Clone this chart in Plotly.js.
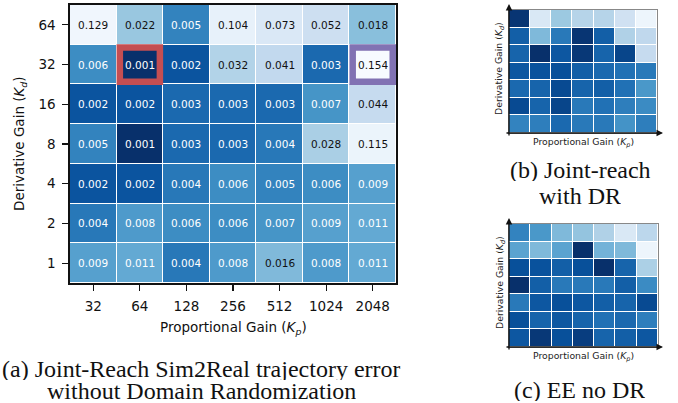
<!DOCTYPE html>
<html><head><meta charset="utf-8">
<script src="https://cdn.plot.ly/plotly-3.0.1.min.js"></script>
<style>html,body{margin:0;padding:0;background:#fff}#chart{width:678px;height:403px}</style>
</head><body><div id="chart"></div>
<script>
// ---- data ----
const kpLabels = ['32','64','128','256','512','1024','2048'];
const kdLabels = ['64','32','16','8','4','2','1']; // top to bottom
// (a) trajectory error, rows top (Kd=64) to bottom (Kd=1)
const errRow64 = [0.129, 0.022, 0.005, 0.104, 0.073, 0.052, 0.018];
const errRow32 = [0.006, 0.001, 0.002, 0.032, 0.041, 0.003, 0.154];
const errRow16 = [0.002, 0.002, 0.003, 0.003, 0.003, 0.007, 0.044];
const errRow8  = [0.005, 0.001, 0.003, 0.003, 0.004, 0.028, 0.115];
const errRow4  = [0.002, 0.002, 0.004, 0.006, 0.005, 0.006, 0.009];
const errRow2  = [0.004, 0.008, 0.006, 0.006, 0.007, 0.009, 0.011];
const errRow1  = [0.009, 0.011, 0.004, 0.008, 0.016, 0.008, 0.011];
const errA = [errRow64, errRow32, errRow16, errRow8, errRow4, errRow2, errRow1];
// highlighted cells
const highlightKp = ['64', '2048'];
const highlightKd = ['32', '32'];
// (b) Joint-reach with DR: colour level (0 light .. 1 dark), estimated
const levelB = [
  [0.98, 0.15, 0.38, 0.30, 0.30, 0.20, 0.05],
  [0.82, 0.45, 0.72, 0.98, 0.82, 0.32, 0.27],
  [0.80, 1.00, 0.85, 0.97, 0.80, 0.92, 0.25],
  [0.85, 0.87, 0.88, 0.82, 0.78, 0.75, 0.72],
  [0.78, 0.80, 0.90, 0.80, 0.82, 0.75, 0.60],
  [0.90, 0.80, 0.92, 0.72, 0.75, 0.70, 0.65],
  [0.68, 0.70, 0.78, 0.72, 0.72, 0.62, 0.70]
];
// (c) EE no DR
const levelC = [
  [0.68, 0.60, 0.45, 0.40, 0.32, 0.15, 0.28],
  [0.55, 0.45, 0.55, 1.00, 0.48, 0.45, 0.05],
  [0.88, 0.87, 0.82, 0.88, 1.00, 0.80, 0.33],
  [1.00, 0.82, 0.72, 0.72, 0.72, 0.82, 0.65],
  [0.72, 0.85, 0.88, 0.85, 0.82, 0.80, 0.90],
  [0.88, 0.80, 0.85, 0.80, 0.75, 0.78, 0.70],
  [0.85, 0.97, 0.88, 0.95, 0.80, 0.82, 0.85]
];
const captionA = ['(a) Joint-Reach Sim2Real trajectory error', 'without Domain Randomization'];
const captionB = ['(b) Joint-reach', 'with DR'];
const captionC = ['(c) EE no DR'];

// ---- styling ----
const W = 678, H = 403;
const px = v => v / W, py = v => 1 - v / H;
const blues = [[0,'#f7fbff'],[0.125,'#deebf7'],[0.25,'#c6dbef'],[0.375,'#9ecae1'],[0.5,'#6baed6'],[0.625,'#4292c6'],[0.75,'#2171b5'],[0.875,'#08519c'],[1,'#08306b']];
const sans = 'DejaVu Sans, sans-serif';
const serif = 'Liberation Serif, Times New Roman, serif';
const hlColors = ['#c44e52', '#8172b3'];

const flat = errA.flat();
const lmin = Math.log10(Math.min(...flat)), lmax = Math.log10(Math.max(...flat));
const zA = errA.map(r => r.map(v => Math.log10(v)));
const colIdx = kpLabels.map((_, j) => j);
const rowIdx = kdLabels.map((_, i) => i);

const traces = [
  {type:'heatmap', x: colIdx, y: rowIdx, z: zA, zmin: lmin, zmax: lmax,
   colorscale: blues, reversescale: true, showscale: false, xgap: 1, ygap: 1,
   xaxis: 'x', yaxis: 'y', hoverinfo: 'skip'},
  {type:'heatmap', x: colIdx, y: rowIdx, z: levelB, zmin: 0, zmax: 1, colorscale: blues,
   showscale: false, xgap: 1, ygap: 1, xaxis: 'x2', yaxis: 'y2', hoverinfo: 'skip'},
  {type:'heatmap', x: colIdx, y: rowIdx, z: levelC, zmin: 0, zmax: 1, colorscale: blues,
   showscale: false, xgap: 1, ygap: 1, xaxis: 'x3', yaxis: 'y3', hoverinfo: 'skip'}
];

const P = (o) => Object.assign({xref:'paper', yref:'paper', xanchor:'center', yanchor:'middle', showarrow:false}, o);
const annotations = [];
errA.forEach((row, i) => row.forEach((v, j) => {
  const norm = (Math.log10(v) - lmin) / (lmax - lmin);
  annotations.push({x: j, y: i, xref: 'x', yref: 'y', xanchor:'center', yanchor:'middle', text: v.toFixed(3),
    showarrow: false, font: {family: sans, size: 10.5, color: norm > 0.5 ? '#111' : '#fff'}});
}));
// axis titles (a)
annotations.push(P({x: px(233), y: py(328), text: 'Proportional Gain (<i>K</i><sub><i>p</i></sub>)',
  font:{family:sans, size:13.5, color:'#111'}}));
annotations.push(P({x: px(20), y: py(144), text: 'Derivative Gain (<i>K</i><sub><i>d</i></sub>)',
  textangle:-90, font:{family:sans, size:13.5, color:'#111'}}));
// small panels titles
[[142, 69], [356, 283]].forEach(([xt, yc]) => {
  annotations.push(P({x: px(583), y: py(xt), text: 'Proportional Gain (<i>K</i><sub><i>p</i></sub>)',
    font:{family:sans, size:9.3, color:'#222'}}));
  annotations.push(P({x: px(500), y: py(yc), text: 'Derivative Gain (<i>K</i><sub><i>d</i></sub>)',
    textangle:-90, font:{family:sans, size:9.3, color:'#222'}}));
});
// arrows for small panels
[[10, 133], [224, 347]].forEach(([top, bot]) => {
  annotations.push({xref:'paper', yref:'paper', x: px(663), y: py(bot), ax: 505 - 663, ay: 0, text: '',
    showarrow:true, arrowhead:2, arrowsize:1, arrowwidth:1.3, arrowcolor:'#111'});
  annotations.push({xref:'paper', yref:'paper', x: px(509), y: py(top - 6), ax: 0, ay: (bot + 4) - (top - 6), text: '',
    showarrow:true, arrowhead:2, arrowsize:1, arrowwidth:1.3, arrowcolor:'#111'});
});
// captions
const capFont = {family:serif, size:24, color:'#111'};
[[captionA, 201, [369, 391]], [captionB, 580, [170, 196]], [captionC, 579, [390]]].forEach(([lines, cx, ys]) => {
  lines.forEach((t, k) => annotations.push(P({x: px(cx), y: py(ys[k]), text: t, font: capFont, height: 22, borderpad: 0})));
});

const shapes = highlightKp.map((kp, k) => {
  const j = kpLabels.indexOf(kp), i = kdLabels.indexOf(highlightKd[k]);
  return {type:'rect', xref:'x', yref:'y', x0: j - 0.43, x1: j + 0.43, y0: i - 0.43, y1: i + 0.43,
    line:{color: hlColors[k], width: 6.5}, fillcolor:'rgba(0,0,0,0)'};
});

const smallAx = (dom) => ({domain: dom, range:[-0.5, 6.5], showticklabels:false, ticks:'', showgrid:false, zeroline:false,
  showline:true, mirror:true, linecolor:'#888', linewidth:1});

const layout = {
  width: W, height: H, margin: {l:0, r:0, t:0, b:0},
  paper_bgcolor:'#fff', plot_bgcolor:'#fff', showlegend:false,
  font: {family: sans, color:'#111'},
  xaxis: {domain:[px(70), px(396)], anchor:'y', range:[-0.5, 6.5], tickmode:'array', tickvals: colIdx, ticktext: kpLabels,
    ticks:'outside', ticklen:6, tickwidth:1.2,
    tickcolor:'#111', showline:true, mirror:true, linecolor:'#111', linewidth:1.6, showgrid:false, zeroline:false,
    tickfont:{family:sans, size:13.5, color:'#111'}, ticklabelstandoff:4},
  yaxis: {domain:[py(283), py(5)], anchor:'x', range:[6.5, -0.5], tickmode:'array', tickvals: rowIdx, ticktext: kdLabels,
    ticks:'outside', ticklen:6, tickwidth:1.2,
    tickcolor:'#111', showline:true, mirror:true, linecolor:'#111', linewidth:1.6, showgrid:false, zeroline:false,
    tickfont:{family:sans, size:13.5, color:'#111'}, ticklabelstandoff:4},
  xaxis2: Object.assign(smallAx([px(509), px(657)]), {anchor:'y2'}),
  yaxis2: Object.assign(smallAx([py(133), py(10)]), {anchor:'x2', range:[6.5, -0.5]}),
  xaxis3: Object.assign(smallAx([px(509), px(658)]), {anchor:'y3'}),
  yaxis3: Object.assign(smallAx([py(347), py(224)]), {anchor:'x3', range:[6.5, -0.5]}),
  annotations: annotations, shapes: shapes
};
Plotly.newPlot('chart', traces, layout, {staticPlot:true, displayModeBar:false});
</script></body></html>
